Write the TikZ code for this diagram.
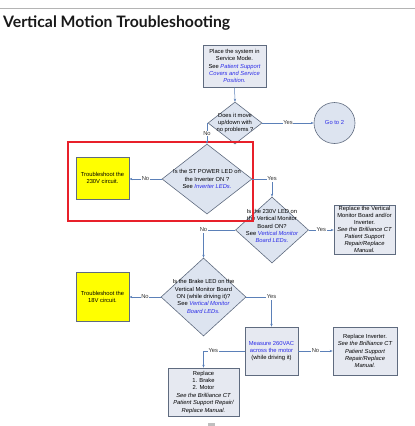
\documentclass[tikz,border=0pt]{standalone}
\usepackage{fontspec}
\setmainfont{Liberation Sans}
\newfontfamily\titlefont{Lato}
\usetikzlibrary{arrows.meta,shapes.geometric}
\definecolor{boxf}{HTML}{E6E9F1}
\definecolor{diaf}{HTML}{DDE4F0}
\definecolor{boxd}{HTML}{5F6B7F}
\definecolor{linec}{HTML}{5B80B8}
\definecolor{bluet}{HTML}{2A2AE8}
\definecolor{labc}{HTML}{333333}
\definecolor{redr}{HTML}{E8202A}
\definecolor{yel}{HTML}{FFFF00}
\definecolor{rulec}{HTML}{B4B4B4}
\newcommand{\fs}{\fontsize{5.8}{7.4}\selectfont}
\newcommand{\bl}[1]{\textcolor{bluet}{\itshape #1}}
\begin{document}
\begin{tikzpicture}[x=1pt,y=-1pt,
  conn/.style={draw=linec, line width=0.5pt, -{Stealth[length=3pt,width=2.4pt]}},
  box/.style={draw=boxd, fill=boxf, line width=0.6pt, rectangle, inner sep=0pt, align=center, font=\fs, text=black},
  ybox/.style={box, fill=yel},
  dia/.style={draw=boxd, fill=diaf, diamond, inner sep=0pt, line width=0.6pt},
  txt/.style={align=center, font=\fs, inner sep=0pt},
  lab/.style={fill=white, inner sep=0.6pt, font=\fs, text=labc}]
\path[use as bounding box] (0,0) rectangle (415,426);
% top rule and title
\coordinate (rl) at (0,8.5);
\coordinate (rr) at (415,8.5);
\draw[draw=rulec, line width=1.2pt] (rl) -- (rr);
\node[anchor=base west, inner sep=0pt, text=black!90] (title) at (3,27.5)
  {\resizebox{227pt}{!}{\titlefont\bfseries Vertical Motion Troubleshooting}};
% nodes
\node[box, minimum width=63pt, minimum height=42pt] (b1) at (234.5,66)
  {Place the system in\\Service Mode.\\See \bl{Patient Support}\\\bl{Covers and Service}\\\bl{Position.}};
\node[dia, minimum width=54pt, minimum height=42pt] (d2) at (235,123) {};
\node[txt] at (235,123) {Does it move\\up/down with\\no problems ?};
\node[circle, draw=boxd, fill=diaf, line width=0.6pt, minimum size=41pt, inner sep=0pt, font=\fs, text=bluet] (c) at (334.5,123) {Go to 2};
\node[dia, minimum width=90pt, minimum height=70pt] (d3) at (207,179) {};
\node[txt] at (207,179) {Is the ST POWER LED on\\the Inverter ON ?\\See \bl{Inverter LEDs.}};
\node[ybox, minimum width=53pt, minimum height=42pt] (y1) at (102.5,178) {Troubleshoot the\\230V circuit.};
\node[dia, minimum width=73pt, minimum height=66pt] (d4) at (272,230) {};
\node[txt] at (272,226) {Is the 230V LED on\\the Vertical Monitor\\Board ON?\\See \bl{Vertical Monitor}\\\bl{Board LEDs.}};
\node[box, minimum width=61pt, minimum height=49pt, font=\fontsize{5.8}{6.9}\selectfont] (r1) at (364.5,229.5)
  {Replace the Vertical\\Monitor Board and/or\\Inverter.\\\itshape See the Brilliance CT\\\itshape Patient Support\\\itshape Repair/Replace\\\itshape Manual.};
\node[dia, minimum width=85pt, minimum height=78pt] (d5) at (203.5,297) {};
\node[txt] at (203.5,296.5) {Is the Brake LED on the\\Vertical Monitor Board\\ON (while driving it)?\\See \bl{Vertical Monitor}\\\bl{Board LEDs.}};
\node[ybox, minimum width=53pt, minimum height=49pt] (y2) at (102.5,297) {Troubleshoot the\\18V circuit.};
\node[box, minimum width=53pt, minimum height=48pt] (b6) at (271.5,351)
  {\textcolor{bluet}{Measure 260VAC}\\\textcolor{bluet}{across the motor}\\(while driving it)};
\node[box, minimum width=64pt, minimum height=48pt] (b7) at (365,351)
  {Replace Inverter.\\\itshape See the Brilliance CT\\\itshape Patient Support\\\itshape Repair/Replace\\\itshape Manual.};
\node[box, minimum width=71pt, minimum height=48pt] (b8) at (203.5,392)
  {Replace\\1. Brake\\2. Motor\\\itshape See the Brilliance CT\\\itshape Patient Support Repair/\\\itshape Replace Manual.};
% red highlight
\draw[draw=redr, line width=1.2pt] (68,142) rectangle (253,221);
% connectors
\draw[conn] (b1.south) -- (d2.north);
\draw[conn] (d2.east) -- (c.west) node[lab, pos=0.5] {Yes};
\draw[conn] (d2.west) -| (d3.north) node[lab, pos=0.75] {No};
\draw[conn] (d3.west) -- (y1.east |- d3.west) node[lab, pos=0.5] {No};
\draw[conn] (d3.east) -| (d4.north) node[lab, pos=0.5] {Yes};
\draw[conn] (d4.east) -- (r1.west |- d4.east) node[lab, pos=0.5] {Yes};
\draw[conn] (d4.west) -| (d5.north) node[lab, pos=0.5] {No};
\draw[conn] (d5.west) -- (y2.east |- d5.west) node[lab, pos=0.5] {No};
\draw[conn] (d5.east) -| (b6.north) node[lab, pos=0.5] {Yes};
\draw[conn] (b6.east) -- (b7.west) node[lab, pos=0.5] {No};
\draw[conn] (b6.west) -| (b8.north) node[lab, pos=0.38] {Yes};
% small grey mark at bottom
\fill[gray!50] (208,423) rectangle (215,426);
\end{tikzpicture}
\end{document}
